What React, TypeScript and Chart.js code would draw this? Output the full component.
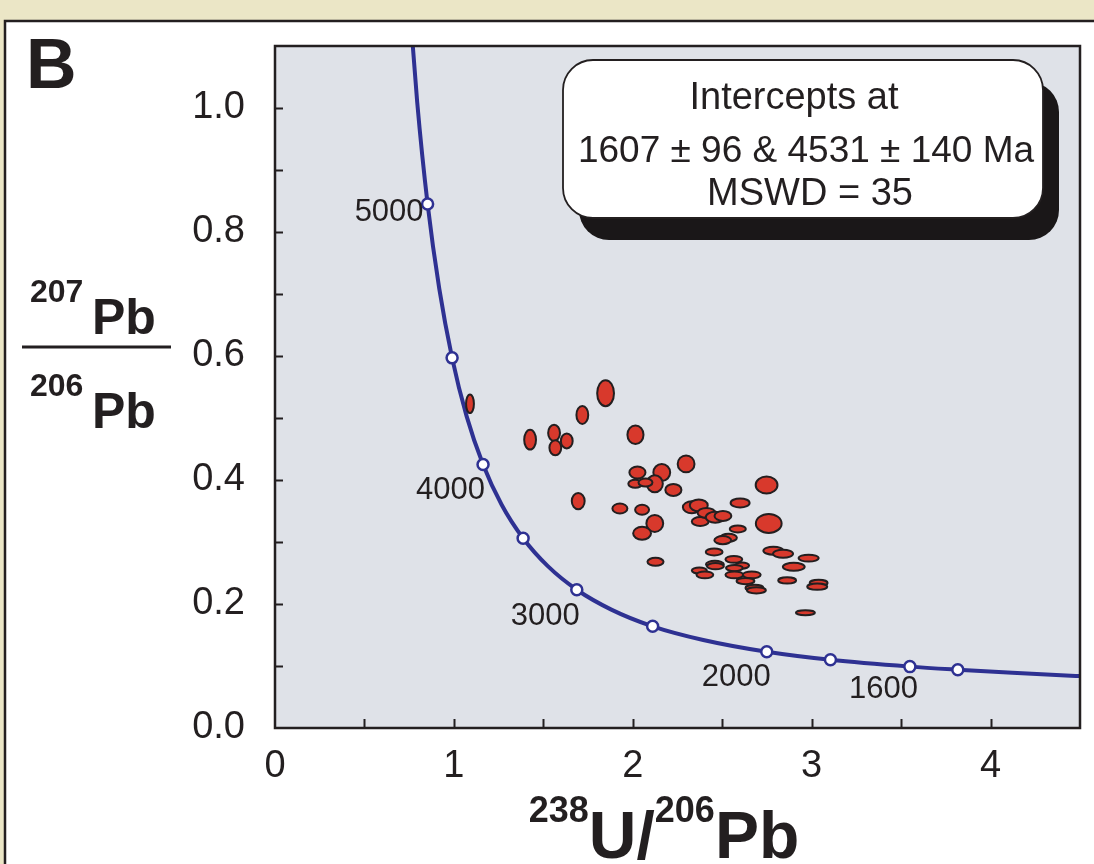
import React, { useEffect, useRef } from 'react';
import { Chart, registerables } from 'chart.js';

Chart.register(...registerables);

const W = 1094;
const H = 864;

// Concordia curve (Tera-Wasserburg)
const concordiaX = [0.742, 0.795, 0.853, 0.918, 0.99, 1.071, 1.163, 1.267, 1.387, 1.525, 1.687, 1.88, 2.111, 2.394, 2.749, 3.105, 3.549, 3.817, 4.122, 4.476, 4.672];
const concordiaY = [1.207, 1.009, 0.845, 0.709, 0.597, 0.503, 0.425, 0.36, 0.306, 0.261, 0.223, 0.191, 0.164, 0.142, 0.123, 0.11, 0.099, 0.094, 0.089, 0.084, 0.082];

// Age markers on the concordia
const markerAges = [5000, 4500, 4000, 3500, 3000, 2500, 2000, 1800, 1600, 1500];
const markerX = [0.853, 0.99, 1.163, 1.387, 1.687, 2.111, 2.749, 3.105, 3.549, 3.817];
const markerY = [0.845, 0.597, 0.425, 0.306, 0.223, 0.164, 0.123, 0.11, 0.099, 0.094];
const labelledAges = ['5000', '4000', '3000', '2000', '1600'];

// Analyses (error ellipses): centre and half-axes in data units
const spotX = [1.09, 1.426, 1.56, 1.567, 1.631, 1.718, 1.848, 2.015, 1.695, 1.928, 2.052, 2.026, 2.162, 2.298, 2.123, 2.014, 2.071, 2.227, 2.123, 2.052, 2.127, 2.748, 2.76, 2.6, 2.33, 2.369, 2.377, 2.412, 2.461, 2.504, 2.587, 2.535, 2.503, 2.455, 2.786, 2.84, 2.983, 2.9, 2.565, 2.459, 2.462, 2.611, 2.568, 2.372, 2.403, 2.568, 2.665, 2.63, 2.863, 2.68, 2.691, 3.039, 3.031, 2.965];
const spotY = [0.523, 0.465, 0.476, 0.452, 0.463, 0.505, 0.54, 0.473, 0.366, 0.354, 0.352, 0.412, 0.412, 0.426, 0.394, 0.394, 0.396, 0.384, 0.33, 0.314, 0.268, 0.392, 0.33, 0.363, 0.356, 0.359, 0.333, 0.347, 0.34, 0.342, 0.321, 0.307, 0.303, 0.284, 0.286, 0.281, 0.274, 0.26, 0.272, 0.264, 0.261, 0.262, 0.258, 0.254, 0.247, 0.247, 0.247, 0.237, 0.238, 0.226, 0.222, 0.234, 0.228, 0.186];
const spotErrX = [0.022, 0.033, 0.033, 0.033, 0.033, 0.033, 0.047, 0.045, 0.036, 0.042, 0.039, 0.045, 0.047, 0.047, 0.045, 0.039, 0.039, 0.045, 0.047, 0.05, 0.045, 0.061, 0.072, 0.053, 0.05, 0.05, 0.047, 0.05, 0.053, 0.047, 0.045, 0.047, 0.047, 0.047, 0.056, 0.056, 0.056, 0.061, 0.047, 0.05, 0.047, 0.039, 0.047, 0.042, 0.047, 0.05, 0.05, 0.05, 0.05, 0.05, 0.053, 0.05, 0.056, 0.053];
const spotErrY = [0.015, 0.016, 0.013, 0.012, 0.012, 0.0145, 0.021, 0.015, 0.013, 0.008, 0.008, 0.0097, 0.0137, 0.0137, 0.0137, 0.0065, 0.0065, 0.0097, 0.0137, 0.0105, 0.0065, 0.0137, 0.0153, 0.0073, 0.0097, 0.0097, 0.0073, 0.008, 0.0089, 0.008, 0.0056, 0.0065, 0.0065, 0.0056, 0.0065, 0.0065, 0.0056, 0.0065, 0.0056, 0.0056, 0.005, 0.005, 0.005, 0.005, 0.0056, 0.0056, 0.0056, 0.005, 0.005, 0.005, 0.005, 0.005, 0.005, 0.004];

// Axis ticks
const xTickLabels = ['0', '1', '2', '3', '4'];
const yTickLabels = ['0.0', '0.2', '0.4', '0.6', '0.8', '1.0'];

const annotationLines = ['Intercepts at', '1607 \u00b1 96 & 4531 \u00b1 140 Ma', 'MSWD = 35'];

// styling
const FONT = "'Liberation Sans', Arial, Helvetica, sans-serif";
const INK = '#231f20';
const CURVE = '#2e3192';
const SPOT = '#d8392c';
const PLOT_BG = '#dfe2e8';
const BEIGE = '#ebe6c6';
const LABEL_OFFSETS: Record<string, [number, number]> = {
  '5000': [-4, 8],
  '4000': [2, 26],
  '3000': [3, 27],
  '2000': [4, 26],
  '1600': [8, 23],
};

const decor = {
  id: 'decor',
  beforeDraw(chart: any) {
    const { ctx, chartArea: a } = chart;
    ctx.save();
    ctx.fillStyle = BEIGE;
    ctx.fillRect(0, 0, W, H);
    ctx.fillStyle = '#ffffff';
    ctx.fillRect(5, 21, W - 5, H - 21);
    ctx.strokeStyle = INK;
    ctx.lineWidth = 2.5;
    ctx.beginPath();
    ctx.moveTo(5, H);
    ctx.lineTo(5, 21);
    ctx.lineTo(W, 21);
    ctx.stroke();
    ctx.fillStyle = PLOT_BG;
    ctx.fillRect(a.left, a.top, a.right - a.left, a.bottom - a.top);
    ctx.restore();
  },
  afterDatasetsDraw(chart: any) {
    const { ctx } = chart;
    const xs = chart.scales.x;
    const ys = chart.scales.y;
    const meta = chart.getDatasetMeta(2);
    ctx.save();
    meta.data.forEach((el: any, i: number) => {
      const rx = Math.abs(xs.getPixelForValue(spotX[i] + spotErrX[i]) - xs.getPixelForValue(spotX[i]));
      const ry = Math.abs(ys.getPixelForValue(spotY[i] + spotErrY[i]) - ys.getPixelForValue(spotY[i]));
      ctx.beginPath();
      ctx.ellipse(el.x, el.y, rx, ry, 0, 0, Math.PI * 2);
      ctx.fillStyle = SPOT;
      ctx.fill();
      ctx.lineWidth = 2;
      ctx.strokeStyle = INK;
      ctx.stroke();
    });
    // age labels
    const mMeta = chart.getDatasetMeta(0);
    ctx.fillStyle = INK;
    ctx.font = `31px ${FONT}`;
    ctx.textAlign = 'right';
    ctx.textBaseline = 'middle';
    markerAges.forEach((age, i) => {
      const key = String(age);
      if (!labelledAges.includes(key)) return;
      const el = mMeta.data[i];
      const off = LABEL_OFFSETS[key];
      ctx.fillText(key, el.x + off[0], el.y + off[1]);
    });
    ctx.restore();
  },
  afterDraw(chart: any) {
    const { ctx, chartArea: a } = chart;
    const xs = chart.scales.x;
    const ys = chart.scales.y;
    ctx.save();
    // inward ticks
    ctx.strokeStyle = INK;
    ctx.lineWidth = 2;
    ctx.beginPath();
    xs.ticks.forEach((t: any) => {
      const px = Math.round(xs.getPixelForValue(t.value)) + 0.5;
      if (px < a.left + 2 || px > a.right - 2) return;
      ctx.moveTo(px, a.bottom);
      ctx.lineTo(px, a.bottom - 9);
    });
    ys.ticks.forEach((t: any) => {
      const py = Math.round(ys.getPixelForValue(t.value)) + 0.5;
      if (py < a.top + 2 || py > a.bottom - 2) return;
      ctx.moveTo(a.left, py);
      ctx.lineTo(a.left + 8, py);
    });
    ctx.stroke();
    // plot frame
    ctx.lineWidth = 2.5;
    ctx.strokeRect(a.left, a.top, a.right - a.left, a.bottom - a.top);

    // annotation box
    const bx = 563, by = 60, bw = 480, bh = 158, r = 30;
    ctx.fillStyle = '#1a1718';
    ctx.beginPath();
    ctx.roundRect(bx + 16, by + 22, bw, bh, r);
    ctx.fill();
    ctx.fillStyle = '#ffffff';
    ctx.beginPath();
    ctx.roundRect(bx, by, bw, bh, r);
    ctx.fill();
    ctx.lineWidth = 1.8;
    ctx.strokeStyle = INK;
    ctx.stroke();
    ctx.fillStyle = INK;
    ctx.textAlign = 'center';
    ctx.textBaseline = 'middle';
    ctx.font = `38px ${FONT}`;
    ctx.fillText(annotationLines[0], 794, 99);
    ctx.font = `37px ${FONT}`;
    ctx.fillText(annotationLines[1], 806, 152);
    ctx.font = `38px ${FONT}`;
    ctx.fillText(annotationLines[2], 810, 195);

    // panel letter
    ctx.textAlign = 'left';
    ctx.textBaseline = 'alphabetic';
    ctx.font = `bold 70px ${FONT}`;
    ctx.fillText('B', 26, 88);

    // y-axis title: 207Pb / 206Pb
    ctx.font = `bold 32px ${FONT}`;
    ctx.fillText('207', 30, 302);
    ctx.fillText('206', 30, 396);
    ctx.font = `bold 50px ${FONT}`;
    ctx.fillText('Pb', 92, 334);
    ctx.fillText('Pb', 92, 428);
    ctx.lineWidth = 3;
    ctx.beginPath();
    ctx.moveTo(22, 347);
    ctx.lineTo(171, 347);
    ctx.stroke();

    // x-axis title: 238U/206Pb
    const supFont = `bold 36px ${FONT}`;
    const mainFont = `bold 66px ${FONT}`;
    const parts: [string, string, number][] = [
      ['238', supFont, 822],
      ['U/', mainFont, 858],
      ['206', supFont, 822],
      ['Pb', mainFont, 858],
    ];
    let total = 0;
    parts.forEach(([t, f]) => { ctx.font = f; total += ctx.measureText(t).width; });
    let cx = 664 - total / 2;
    parts.forEach(([t, f, y]) => {
      ctx.font = f;
      ctx.fillText(t, cx, y);
      cx += ctx.measureText(t).width;
    });
    ctx.restore();
  },
};

export default function App() {
  const ref = useRef<HTMLCanvasElement | null>(null);
  useEffect(() => {
    if (!ref.current) return;
    const chart = new Chart(ref.current, {
      type: 'line',
      data: {
        datasets: [
          {
            label: 'ages',
            data: markerX.map((x, i) => ({ x, y: markerY[i] })),
            showLine: false,
            pointRadius: 5.5,
            pointBorderWidth: 2.5,
            pointBackgroundColor: '#ffffff',
            pointBorderColor: CURVE,
          },
          {
            label: 'concordia',
            data: concordiaX.map((x, i) => ({ x, y: concordiaY[i] })),
            borderColor: CURVE,
            borderWidth: 4,
            pointRadius: 0,
            cubicInterpolationMode: 'monotone',
            fill: false,
          },
          {
            label: 'analyses',
            data: spotX.map((x, i) => ({ x, y: spotY[i] })),
            showLine: false,
            pointRadius: 0,
          },
        ],
      },
      options: {
        responsive: false,
        animation: false,
        events: [],
        layout: { padding: { left: 0, top: 46, right: 14, bottom: 0 } },
        plugins: { legend: { display: false }, tooltip: { enabled: false } },
        scales: {
          x: {
            type: 'linear',
            min: 0,
            max: 4.5,
            afterFit: (s: any) => { s.height = H - 728; s.paddingLeft = 0; s.paddingRight = 0; },
            grid: { display: false, drawTicks: false },
            border: { display: false },
            ticks: {
              stepSize: 0.5,
              autoSkip: false,
              maxRotation: 0,
              padding: 16,
              color: INK,
              font: { family: FONT, size: 38 },
              callback: (v: any) => {
                const i = Math.round(Number(v) * 2);
                return i % 2 === 0 ? (xTickLabels[i / 2] ?? '') : '';
              },
            },
          },
          y: {
            type: 'linear',
            min: 0,
            max: 1.1,
            afterFit: (s: any) => { s.width = 275; s.paddingTop = 0; s.paddingBottom = 0; },
            grid: { display: false, drawTicks: false },
            border: { display: false },
            ticks: {
              stepSize: 0.1,
              autoSkip: false,
              padding: 30,
              color: INK,
              font: { family: FONT, size: 38 },
              callback: (v: any) => {
                const i = Math.round(Number(v) * 10);
                return i % 2 === 0 ? (yTickLabels[i / 2] ?? '') : '';
              },
            },
          },
        },
      } as any,
      plugins: [decor],
    });
    return () => chart.destroy();
  }, []);
  return (
    <div style={{ position: 'absolute', left: 0, top: 0, width: W, height: H }}>
      <canvas ref={ref} width={W} height={H} style={{ display: 'block', width: W, height: H }} />
    </div>
  );
}
